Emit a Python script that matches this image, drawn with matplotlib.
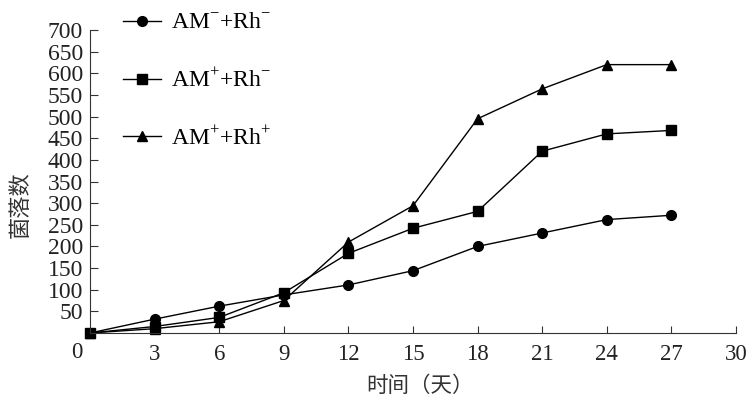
import matplotlib
matplotlib.use("Agg")
import matplotlib.pyplot as plt

days = [0, 3, 6, 9, 12, 15, 18, 21, 24, 27]
am_neg_rh_neg = [0, 32, 62, 88, 111, 144, 200, 231, 262, 272]
am_pos_rh_neg = [0, 15, 36, 93, 184, 242, 281, 420, 460, 468]
am_pos_rh_pos = [0, 10, 26, 75, 210, 294, 495, 564, 620, 620]
labels = ["AM$^{-}$+Rh$^{-}$", "AM$^{+}$+Rh$^{-}$", "AM$^{+}$+Rh$^{+}$"]
xticks = [3, 6, 9, 12, 15, 18, 21, 24, 27, 30]
yticks = [50, 100, 150, 200, 250, 300, 350, 400, 450, 500, 550, 600, 650, 700]

plt.rcParams['font.family'] = ['Liberation Serif', 'Noto Sans CJK SC']
plt.rcParams['mathtext.fontset'] = 'custom'
plt.rcParams['mathtext.rm'] = 'Liberation Serif'

fig = plt.figure(figsize=(7.49, 4.0), dpi=100)
ax = fig.add_axes([90/749, 1-333/400, (736-90)/749, (333-30)/400])

l1, = ax.plot(days, am_neg_rh_neg, color='black', lw=1, marker='o', ms=7, clip_on=False)
l2, = ax.plot(days, am_pos_rh_neg, color='black', lw=1, marker='s', ms=7, clip_on=False)
l3, = ax.plot(days, am_pos_rh_pos, color='black', lw=1, marker='^', ms=7, clip_on=False)

ax.set_xlim(0, 30)
ax.set_ylim(0, 700)
ax.set_xticks(xticks)
ax.set_yticks(yticks)
for s in ['top', 'right']:
    ax.spines[s].set_visible(False)
for s in ['left', 'bottom']:
    ax.spines[s].set_color('#333333')
ax.tick_params(direction='in', color='#333333', labelcolor='#222222')
ax.tick_params(axis='x', pad=8, length=5, labelsize=16.5)
ax.tick_params(axis='y', pad=5, length=6, labelsize=17)

fig.text(77/749, 1-352/400, "0", ha='center', va='center', fontsize=16.5, color='#222222')
fig.text(420/749, 1-386/400, "时间（天）", ha='center', va='center', fontsize=15.5,
         color='#333333', family=['Noto Sans CJK SC'])
fig.text(20/749, 1-205/400, "菌落数", rotation=90, ha='center', va='center', fontsize=16,
         color='#333333', family=['Noto Sans CJK SC'])

fig.legend([l1, l2, l3], labels, loc='upper left', bbox_to_anchor=(106/749, 1+4/400),
           frameon=False, fontsize=17, handlelength=1.65, labelspacing=1.45, handletextpad=0.4,
           borderpad=0.2)

fig.savefig("out.png", dpi=100)
